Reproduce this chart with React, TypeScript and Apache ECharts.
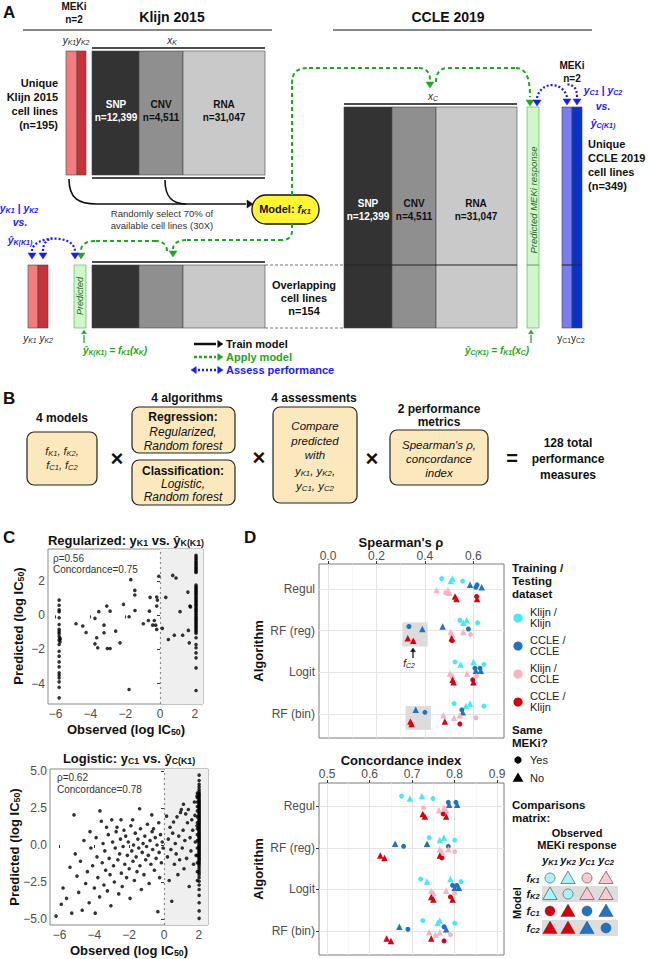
import React, { useEffect, useRef } from "react";
import * as echarts from "echarts";

const FONT = "'Liberation Sans', Arial, Helvetica, sans-serif";

// ---------------- Panel C data ----------------
const regularizedPoints: number[][] = [
  [-5.8, 0.9], [-5.8, 0.6], [-5.8, 0.33], [-5.8, 0.22], [-5.8, -0.14], [-5.8, -0.53], [-5.8, -0.82], [-5.8, -0.95],
  [-5.8, -1.06], [-5.8, -1.22], [-5.75, -1.35], [-5.75, -1.4], [-5.8, -1.45], [-5.75, -1.55], [-5.8, -1.71], [-5.8, -2.1],
  [-5.8, -2.39], [-5.8, -2.73], [-5.8, -3.02], [-5.8, -3.37], [-5.8, -3.51], [-5.8, -3.67], [-5.8, -3.9], [-5.8, -4.22], [-5.8, -4.84],
  [-4.83, -0.49], [-4.44, -0.62], [-4.25, -1.0], [-3.74, -0.17], [-3.52, 0.22], [-3.64, -1.31], [-3.74, -1.67], [-3.58, -1.9],
  [-3.22, -0.57], [-3.22, -1.02], [-3.06, 0.55], [-2.87, 0.25], [-3.03, -1.94], [-2.87, -1.94], [-2.55, -0.92], [-2.3, -1.61],
  [-2.1, 0.65], [-1.78, -0.08], [-1.78, -4.35], [-1.44, 0.29], [-0.96, -0.49], [-0.67, -0.3], [-0.61, 0.25], [-0.33, -0.3],
  [-0.42, -0.57], [-0.25, -0.57], [-0.19, -0.82], [-0.19, 0.55], [0.13, -0.76], [0.48, -1.41], [0.82, -1.16], [1.15, 0.22],
  [1.3, -1.16], [1.63, -0.88], [1.68, -1.61], [1.72, 0.55], [-1.68, 2.1], [-1.45, 1.47], [-1.45, 1.2], [-0.07, 2.3],
  [0.73, 2.35], [0.92, 2.2], [-0.57, 1.06], [-0.19, 1.08], [-0.15, 0.9], [0.33, 1.06], [1.6, 1.37], [1.75, 0.5],
  [2.07, 3.53], [2.07, 3.42], [2.07, 3.33], [2.07, 3.22], [2.07, 3.12], [2.07, 3.04], [2.07, 2.95], [2.07, 2.85],
  [2.07, 2.76], [2.07, 2.68], [2.07, 2.6], [2.07, 2.52], [2.07, 1.78], [2.07, 1.68], [2.07, 1.6], [2.07, 1.5],
  [2.07, 1.42], [2.07, 1.33], [2.07, 1.25], [2.07, 1.15], [2.07, 1.05], [2.07, 0.97], [2.07, 0.88], [2.07, 0.8],
  [2.07, 0.7], [2.07, 0.62], [2.07, 0.55], [2.07, 0.45], [2.07, 0.36], [2.07, 0.28], [2.07, 0.2], [2.07, 0.1],
  [2.07, 0.02], [2.07, -0.08], [2.07, -0.16], [2.07, -0.25], [2.07, -0.33], [2.07, -0.42], [2.07, -0.5], [2.07, -0.6],
  [2.07, -0.68], [2.07, -0.77], [2.07, -0.86], [2.07, -0.95], [2.07, -1.05], [2.07, -1.31], [2.07, -1.71], [2.07, -1.9],
  [2.07, -2.2], [2.07, -2.49], [2.07, -3.08], [2.07, -4.41],
];

const logisticPoints: number[][] = [
  [-6.2, -4.8], [-5.9, -4.0], [-5.8, -2.9], [-5.6, -3.6], [-5.4, -1.5], [-5.3, -4.6], [-5.17, 2.03], [-5.1, -0.6],
  [-5.0, -2.1], [-4.9, -3.2], [-4.8, -1.1], [-4.7, -4.4], [-4.6, 0.3], [-4.5, -2.6], [-4.4, -1.8], [-4.3, -3.9],
  [-4.25, 0.9], [-4.2, -0.2], [-4.1, -1.4], [-4.0, -2.9], [-3.95, -4.6], [-3.9, 0.5], [-3.85, -0.8], [-3.8, -2.2],
  [-3.7, -3.5], [-3.68, 2.3], [-3.6, 1.6], [-3.55, -1.2], [-3.5, 0.1], [-3.45, -2.7], [-3.4, -0.4], [-3.35, -1.7],
  [-3.3, 1.2], [-3.25, -3.1], [-3.2, 0.7], [-3.15, -0.9], [-3.1, -2.0], [-3.05, -4.1], [-3.0, 1.7], [-2.95, 0.2],
  [-2.9, -1.4], [-2.85, -2.5], [-2.8, -0.2], [-2.75, 0.9], [-2.7, 1.2], [-2.65, -1.0], [-2.6, -3.3], [-2.55, -0.6],
  [-2.5, 0.4], [-2.47, 1.7], [-2.45, -1.9], [-2.4, -2.8], [-2.35, -0.1], [-2.3, 1.0], [-2.25, -1.3], [-2.2, 0.6],
  [-2.15, -2.2], [-2.1, -0.7], [-2.05, 0.2], [-2.0, -1.6], [-1.95, -3.6], [-1.9, 1.3], [-1.85, -0.4], [-1.8, 1.7],
  [-1.78, -1.1], [-1.75, 0.0], [-1.7, -2.4], [-1.65, 0.8], [-1.6, -0.8], [-1.55, -1.8], [-1.5, 0.4], [-1.45, -0.2],
  [-1.4, 2.45], [-1.38, -1.4], [-1.35, 1.1], [-1.3, -3.0], [-1.25, -0.5], [-1.2, 0.1], [-1.15, -2.0], [-1.1, 0.6],
  [-1.05, -1.0], [-1.0, -0.1], [-0.95, 1.4], [-0.9, -0.7], [-0.85, -2.6], [-0.8, 0.3], [-0.75, -1.3], [-0.7, 2.03],
  [-0.68, 0.9], [-0.65, -0.3], [-0.6, 1.1], [-0.55, -1.7], [-0.5, 0.5], [-0.45, -0.9], [-0.4, 0.0], [-0.35, -4.5],
  [-0.3, 1.5], [-0.28, -0.5], [-0.25, -2.2], [-0.2, 0.7], [-0.15, -1.2], [-0.1, 0.2], [-0.05, -0.2],
  [0.15, 1.95], [0.2, -0.8], [0.25, 0.4], [0.3, -2.4], [0.35, 1.2], [0.4, -0.3], [0.45, -3.8], [0.5, 0.8],
  [0.55, 1.55], [0.6, -1.3], [0.65, 0.1], [0.7, -0.6], [0.75, 1.9], [0.8, -2.0], [0.85, 0.6], [0.9, -1.0],
  [0.95, 2.2], [1.0, 2.4], [1.05, -0.2], [1.1, 1.0], [1.12, 2.75], [1.15, -1.6], [1.2, 0.3], [1.25, 2.1],
  [1.3, -0.9], [1.35, 1.5], [1.4, 2.4], [1.45, -2.8], [1.5, 0.5], [1.55, -0.4], [1.6, 1.7], [1.65, 1.0],
  [1.7, -1.3], [1.75, 2.9], [1.78, 2.0], [1.8, 0.2], [1.85, -0.7], [1.9, 1.3], [1.9, 3.3],
  [2.02, 4.72], [2.02, 4.35], [2.02, 4.1], [2.02, 3.92], [2.02, 3.75], [2.02, 3.6], [2.02, 3.48], [2.02, 3.4],
  [2.02, 3.3], [2.02, 3.2], [2.02, 3.1], [2.02, 3.0], [2.02, 2.92], [2.02, 2.83], [2.02, 2.75], [2.02, 2.66],
  [2.02, 2.58], [2.02, 2.5], [2.02, 2.41], [2.02, 2.33], [2.02, 2.25], [2.02, 2.16], [2.02, 2.08], [2.02, 2.0],
  [2.02, 1.91], [2.02, 1.83], [2.02, 1.75], [2.02, 1.66], [2.02, 1.58], [2.02, 1.5], [2.02, 1.41], [2.02, 1.33],
  [2.02, 1.25], [2.02, 1.16], [2.02, 1.08], [2.02, 1.0], [2.02, 0.91], [2.02, 0.83], [2.02, 0.75], [2.02, 0.66],
  [2.02, 0.58], [2.02, 0.5], [2.02, 0.41], [2.02, 0.33], [2.02, 0.25], [2.02, 0.16], [2.02, 0.08], [2.02, 0.0],
  [2.02, -0.09], [2.02, -0.17], [2.02, -0.25], [2.02, -0.34], [2.02, -0.42], [2.02, -0.5], [2.02, -0.59], [2.02, -0.67],
  [2.02, -0.75], [2.02, -0.84], [2.02, -0.92], [2.02, -1.0], [2.02, -1.1], [2.02, -1.2], [2.02, -1.3], [2.02, -1.42],
  [2.02, -1.55], [2.02, -1.7], [2.02, -1.85], [2.02, -2.0], [2.02, -2.2], [2.02, -2.45], [2.02, -2.7], [2.02, -3.0],
  [2.02, -3.4], [2.02, -3.9], [2.02, -4.45], [2.02, -4.95],
  [1.92, 3.5], [1.92, 3.2], [1.92, 2.9], [1.92, 2.6], [1.92, 2.3], [1.92, 1.9], [1.92, 1.5], [1.92, 1.1],
  [1.92, 0.7], [1.92, 0.3], [1.92, -0.2], [1.92, -0.7], [1.92, -1.2], [1.92, -1.8], [1.92, -2.4],
];

const regularizedStats = ["ρ=0.56", "Concordance=0.75"];
const logisticStats = ["ρ=0.62", "Concordance=0.78"];
const cXTicks = [-6, -4, -2, 0, 2];
const cTopYTicks = [-4, -2, 0, 2];
const cBottomYTicks = [-5, -2.5, 0, 2.5, 5];

// ---------------- Panel D data ----------------
const algorithms = ["Regul", "RF (reg)", "Logit", "RF (bin)"];
const datasetNames = ["Klijn /\nKlijn", "CCLE /\nCCLE", "Klijn /\nCCLE", "CCLE /\nKlijn"];
const spearmanTicks = [0, 0.2, 0.4, 0.6];
const concordanceTicks = [0.5, 0.6, 0.7, 0.8, 0.9];

// [algorithm index, value, same MEKi (1) or not (0)]
const spearmanKlijnKlijn = [
  [0, 0.469, 1], [0, 0.506, 0], [0, 0.514, 0], [0, 0.555, 1],
  [1, 0.544, 1], [1, 0.558, 0], [1, 0.572, 0], [1, 0.617, 1],
  [2, 0.524, 1], [2, 0.547, 0], [2, 0.600, 0], [2, 0.643, 1],
  [3, 0.520, 1], [3, 0.569, 0], [3, 0.586, 0], [3, 0.643, 1],
];
const spearmanCcleCcle = [
  [0, 0.586, 0], [0, 0.610, 1], [0, 0.615, 1], [0, 0.634, 0],
  [1, 0.334, 1], [1, 0.389, 0], [1, 0.473, 0], [1, 0.579, 1],
  [2, 0.606, 1], [2, 0.610, 0], [2, 0.627, 1], [2, 0.630, 0],
  [3, 0.362, 0], [3, 0.400, 1], [3, 0.552, 1], [3, 0.556, 0],
];
const spearmanKlijnCcle = [
  [0, 0.448, 0], [0, 0.485, 1], [0, 0.495, 0], [0, 0.500, 0],
  [1, 0.506, 0], [1, 0.512, 0], [1, 0.558, 0], [1, 0.588, 1],
  [2, 0.503, 0], [2, 0.514, 0], [2, 0.574, 0], [2, 0.613, 1],
  [3, 0.476, 0], [3, 0.520, 0], [3, 0.544, 0], [3, 0.610, 1],
];
const spearmanCcleKlijn = [
  [0, 0.524, 0], [0, 0.530, 0], [0, 0.613, 1], [0, 0.615, 0],
  [1, 0.329, 0], [1, 0.352, 0], [1, 0.510, 0], [1, 0.512, 1],
  [2, 0.514, 0], [2, 0.518, 0], [2, 0.597, 1], [2, 0.600, 0],
  [3, 0.340, 0], [3, 0.345, 0], [3, 0.482, 0], [3, 0.544, 1],
];
const concordanceKlijnKlijn = [
  [0, 0.675, 1], [0, 0.695, 0], [0, 0.723, 0], [0, 0.749, 1],
  [1, 0.740, 1], [1, 0.765, 0], [1, 0.775, 0], [1, 0.800, 1],
  [2, 0.720, 1], [2, 0.735, 0], [2, 0.790, 0], [2, 0.815, 1],
  [3, 0.725, 1], [3, 0.760, 0], [3, 0.765, 0], [3, 0.800, 1],
];
const concordanceCcleCcle = [
  [0, 0.785, 1], [0, 0.787, 0], [0, 0.803, 1], [0, 0.806, 0],
  [1, 0.660, 0], [1, 0.680, 1], [1, 0.735, 0], [1, 0.785, 1],
  [2, 0.795, 1], [2, 0.800, 0], [2, 0.805, 1], [2, 0.810, 0],
  [3, 0.670, 0], [3, 0.690, 1], [3, 0.775, 1], [3, 0.780, 0],
];
const concordanceKlijnCcle = [
  [0, 0.727, 1], [0, 0.763, 0], [0, 0.775, 0], [0, 0.780, 0],
  [1, 0.765, 0], [1, 0.770, 0], [1, 0.785, 0], [1, 0.800, 1],
  [2, 0.745, 0], [2, 0.750, 0], [2, 0.780, 0], [2, 0.800, 1],
  [3, 0.740, 0], [3, 0.755, 0], [3, 0.765, 0], [3, 0.790, 1],
];
const concordanceCcleKlijn = [
  [0, 0.725, 0], [0, 0.730, 0], [0, 0.773, 1], [0, 0.780, 0],
  [1, 0.625, 0], [1, 0.635, 0], [1, 0.765, 0], [1, 0.770, 1],
  [2, 0.745, 0], [2, 0.750, 0], [2, 0.790, 1], [2, 0.795, 0],
  [3, 0.640, 0], [3, 0.650, 0], [3, 0.745, 0], [3, 0.775, 1],
];

// comparisons matrix: rows f_K1..f_C2, cols y_K1..y_C2: [group, same]
const matrixRows = ["K1", "K2", "C1", "C2"];
const matrixCells = [
  [[0, 1], [0, 0], [2, 1], [2, 0]],
  [[0, 0], [0, 1], [2, 0], [2, 0]],
  [[3, 1], [3, 0], [1, 1], [1, 0]],
  [[3, 0], [3, 0], [1, 0], [1, 1]],
];

// ---------------- styles ----------------
const GROUP_COLORS = ["#45E9F7", "#1F72C4", "#F6B5C1", "#D8000E"];
const MATRIX_FILL = ["#A6F5FA", "#1F72C4", "#F9C8D0", "#D8000E"];
const GROUP_OFFSET = [-0.22, -0.07, 0.06, 0.21];
const GREEN = "#22A622";
const BLUE = "#1A1AFF";

const minusFmt = (v: number, d = 0) => (v < 0 ? "\u2212" : "") + Math.abs(v).toFixed(d);

function richSet(size: number, bold: boolean, color: string) {
  const b = { fontFamily: FONT, fontWeight: bold ? "bold" : "normal", fill: color, color };
  const sub = { fontSize: Math.round(size * 0.68 * 10) / 10, verticalAlign: "top", padding: [size * 0.48, 0, 0, 0] };
  return {
    n: { ...b, fontSize: size, fontStyle: "normal" },
    i: { ...b, fontSize: size, fontStyle: "italic" },
    s: { ...b, ...sub, fontStyle: "italic" },
    u: { ...b, ...sub, fontStyle: "normal" },
  };
}

function buildGraphics() {
  const G: any[] = [];
  const text = (x: number, y: number, t: string, o: any = {}) => {
    const size = o.size ?? 10;
    const color = o.color ?? "#111";
    const align = o.align ?? "center";
    G.push({
      type: "text", x, y, rotation: o.rot ?? 0, z: 50, silent: true,
      style: {
        text: t, x: 0, y: 0, fill: color, fontFamily: FONT, fontSize: size,
        fontWeight: o.bold ? "bold" : "normal", fontStyle: o.italic ? "italic" : "normal",
        align, verticalAlign: "middle", textAlign: align, textVerticalAlign: "middle",
        lineHeight: o.lh,
        rich: o.rich ? richSet(size, !!o.bold, color) : undefined,
      },
    });
  };
  const line = (x1: number, y1: number, x2: number, y2: number, o: any = {}) =>
    G.push({
      type: "line", z: 40, silent: true, shape: { x1, y1, x2, y2 },
      style: { stroke: o.color ?? "#111", lineWidth: o.w ?? 1, lineDash: o.dash ?? null },
    });
  const bez = (x1: number, y1: number, c1x: number, c1y: number, c2x: number, c2y: number, x2: number, y2: number, o: any = {}) =>
    G.push({
      type: "bezierCurve", z: 40, silent: true,
      shape: { x1, y1, cpx1: c1x, cpy1: c1y, cpx2: c2x, cpy2: c2y, x2, y2 },
      style: { stroke: o.color ?? "#111", lineWidth: o.w ?? 1, lineDash: o.dash ?? null, fill: "none" },
    });
  const rect = (x: number, y: number, w: number, h: number, fill: string, o: any = {}) =>
    G.push({
      type: "rect", z: o.z ?? 30, silent: true, shape: { x, y, width: w, height: h, r: o.r ?? 0 },
      style: { fill, stroke: o.stroke ?? "#444", lineWidth: o.lw ?? 0.6 },
    });
  const head = (x: number, y: number, dir: string, color: string, s = 4) => {
    let pts: number[][] = [];
    if (dir === "down") pts = [[x, y], [x - s, y - s * 1.5], [x + s, y - s * 1.5]];
    if (dir === "up") pts = [[x, y], [x - s, y + s * 1.5], [x + s, y + s * 1.5]];
    if (dir === "right") pts = [[x, y], [x - s * 1.5, y - s], [x - s * 1.5, y + s]];
    if (dir === "left") pts = [[x, y], [x + s * 1.5, y - s], [x + s * 1.5, y + s]];
    G.push({ type: "polygon", z: 45, silent: true, shape: { points: pts }, style: { fill: color, stroke: color, lineWidth: 0.5 } });
  };
  const circle = (cx: number, cy: number, r: number, fill: string, stroke = "none", lw = 0) =>
    G.push({ type: "circle", z: 50, silent: true, shape: { cx, cy, r }, style: { fill, stroke, lineWidth: lw } });
  const tri = (cx: number, cy: number, s: number, fill: string, stroke = "none", lw = 0) =>
    G.push({
      type: "polygon", z: 50, silent: true,
      shape: { points: [[cx, cy - s * 0.62], [cx - s * 0.6, cy + s * 0.42], [cx + s * 0.6, cy + s * 0.42]] },
      style: { fill, stroke, lineWidth: lw },
    });

  // ================= Panel A =================
  text(3, 12, "A", { size: 17, bold: true, align: "left" });
  text(74, 12.5, "MEKi\nn=2", { size: 10, bold: true, lh: 13 });
  text(172, 17, "Klijn 2015", { size: 14, bold: true });
  text(448, 17, "CCLE 2019", { size: 14, bold: true });
  line(23, 30, 272, 30, { w: 1.2 });
  line(333, 30, 592, 30, { w: 1.2 });
  text(76, 40, "{i|y}{s|K1}{i|y}{s|K2}", { size: 10, rich: true, color: "#222" });
  text(172, 40, "{i|x}{s|K}", { size: 10, rich: true, color: "#222" });
  text(433, 96, "{i|x}{s|C}", { size: 10, rich: true, color: "#222" });
  line(92, 48, 265, 48, { w: 1.6 });
  line(92, 178, 265, 178, { w: 1.6 });
  line(344, 104, 517, 104, { w: 1.6 });
  line(92, 262, 265, 262, { w: 1.6 });

  // Klijn top blocks
  rect(66, 51, 11, 124, "#F47C7C");
  rect(77, 51, 9, 124, "#C8323B");
  rect(92, 51, 47, 124, "#333333");
  rect(139, 51, 44, 124, "#8F8F8F");
  rect(183, 51, 82, 124, "#C9C9C9");
  // Klijn bottom (overlapping) blocks
  rect(28, 265, 10, 63, "#F47C7C");
  rect(38, 265, 10, 63, "#C8323B");
  rect(74, 265, 12, 63, "#CFF7C8", { stroke: "#4FA84F" });
  rect(92, 265, 47, 63, "#333333");
  rect(139, 265, 44, 63, "#8F8F8F");
  rect(183, 265, 82, 63, "#C9C9C9");
  line(265, 265, 344, 265, { color: "#777", dash: [3, 2] });
  line(265, 328, 344, 328, { color: "#777", dash: [3, 2] });
  // CCLE blocks
  rect(344, 107, 48, 221, "#333333");
  rect(392, 107, 44, 221, "#8F8F8F");
  rect(436, 107, 81, 221, "#C9C9C9");
  line(344, 265, 517, 265, { color: "#222", w: 1 });
  rect(527, 107, 12, 221, "#CFF7C8", { stroke: "#4FA84F" });
  line(527, 265, 539, 265, { color: "#4FA84F", w: 1 });
  rect(562, 107, 10, 221, "#7C7CF2");
  rect(572, 107, 10, 221, "#0B32C8");
  line(562, 265, 582, 265, { color: "#222", w: 1 });

  const blocks = [["SNP", "n=12,399", "#fff"], ["CNV", "n=4,511", "#111"], ["RNA", "n=31,047", "#111"]];
  const klijnCx = [116, 161, 224];
  const ccleCx = [368, 414, 476];
  blocks.forEach((b, k) => {
    text(klijnCx[k], 110.5, b[0] + "\n" + b[1], { size: 10, bold: true, color: b[2], lh: 13 });
    text(ccleCx[k], 209.5, b[0] + "\n" + b[1], { size: 10, bold: true, color: b[2], lh: 13 });
  });

  text(58, 104, "Unique\nKlijn 2015\ncell lines\n(n=195)", { size: 11, bold: true, align: "right", lh: 14 });
  text(588, 165, "Unique\nCCLE 2019\ncell lines\n(n=349)", { size: 11, bold: true, align: "left", lh: 14 });
  text(304, 298, "Overlapping\ncell lines\nn=154", { size: 11, bold: true, lh: 13 });
  text(572, 71.5, "MEKi\nn=2", { size: 10, bold: true, lh: 13 });

  // rotated predicted labels
  text(80, 296, "Predicted", { size: 9, italic: true, color: "#2E6B2E", rot: Math.PI / 2 });
  text(533, 200, "Predicted MEKi response", { size: 9.5, italic: true, color: "#2E6B2E", rot: Math.PI / 2 });

  // black train arrows
  bez(69, 179, 69, 198, 78, 204, 97, 204, { w: 1.6 });
  line(97, 204, 246, 204, { w: 1.6 });
  bez(165, 180, 165, 197, 172, 204, 186, 204, { w: 1.6 });
  head(253, 204, "right", "#111", 4);
  text(162, 219, "Randomly select 70% of\navailable cell lines (30X)", { size: 9.5, color: "#333", lh: 12 });

  // model box
  rect(252, 195, 67, 29, "#FFF533", { stroke: "#111", lw: 1.3, r: 14, z: 35 });
  text(285, 209, "{n|Model: }{i|f}{s|K1}", { size: 11, bold: true, rich: true });

  // green apply arrows (top)
  const gd = { color: GREEN, w: 2, dash: [4, 3] };
  line(292, 195, 292, 84, gd);
  bez(292, 84, 292, 72, 297, 68, 309, 68, gd);
  line(309, 68, 419, 68, gd);
  bez(419, 68, 426, 68, 430, 72, 430, 80, gd);
  head(430, 88, "down", GREEN, 4);
  bez(436, 82, 436, 73, 440, 68, 448, 68, gd);
  line(448, 68, 516, 68, gd);
  bez(516, 68, 526, 68, 530, 78, 530, 97, gd);
  head(530, 106, "down", GREEN, 4);
  // green apply arrows (bottom)
  line(292, 224, 292, 231, gd);
  bez(292, 231, 292, 237, 288, 240, 282, 240, gd);
  line(282, 240, 186, 240, gd);
  bez(186, 240, 178, 240, 173, 244, 173, 249, gd);
  head(173, 257, "down", GREEN, 4);
  bez(167, 251, 167, 245, 163, 241, 156, 241, gd);
  line(156, 241, 95, 241, gd);
  bez(95, 241, 86, 241, 81, 245, 81, 250, gd);
  head(81, 259, "down", GREEN, 4);

  // blue assess arrows
  const bd = { color: BLUE, w: 2.2, dash: [2, 2] };
  bez(32, 251, 32, 236, 74, 233, 75, 251, bd);
  bez(43, 251, 43, 244, 46, 240, 52, 238, bd);
  head(32, 259, "down", BLUE, 4);
  head(43, 259, "down", BLUE, 4);
  head(75, 259, "down", BLUE, 4);
  bez(537, 98, 540, 82, 562, 80, 567, 97, bd);
  bez(577, 97, 577, 88, 574, 85, 566, 84, bd);
  head(537, 106, "down", BLUE, 4);
  head(567, 105, "down", BLUE, 4);
  head(577, 105, "down", BLUE, 4);
  text(19, 208, "{i|y}{s|K1}{i| | y}{s|K2}", { size: 10.5, bold: true, rich: true, color: BLUE });
  text(20, 222, "vs.", { size: 10.5, bold: true, italic: true, color: BLUE });
  text(20, 240, "{i|ŷ}{s|K(K1)}", { size: 10.5, bold: true, rich: true, color: BLUE });
  text(603, 90, "{i|y}{s|C1}{i| | y}{s|C2}", { size: 10.5, bold: true, rich: true, color: BLUE });
  text(603, 106, "vs.", { size: 10.5, bold: true, italic: true, color: BLUE });
  text(603, 123, "{i|ŷ}{s|C(K1)}", { size: 10.5, bold: true, rich: true, color: BLUE });

  // bottom labels
  text(38, 338, "{i|y}{s|K1} {i|y}{s|K2}", { size: 10, rich: true, color: "#222" });
  text(571, 338, "{n|y}{u|C1}{n|y}{u|C2}", { size: 10, rich: true, color: "#222" });
  line(84, 343, 84, 335, { color: GREEN, w: 1.3 });
  head(84, 330, "up", GREEN, 2.5);
  line(531, 343, 531, 335, { color: GREEN, w: 1.3 });
  head(531, 330, "up", GREEN, 2.5);
  text(115, 350, "{i|ŷ}{s|K(K1)}{i| = f}{s|K1}{i|(x}{s|K}{i|)}", { size: 10, bold: true, rich: true, color: GREEN });
  text(497, 350, "{i|ŷ}{s|C(K1)}{i| = f}{s|K1}{i|(x}{s|C}{i|)}", { size: 10, bold: true, rich: true, color: GREEN });

  // legend of arrows
  line(194, 344, 216, 344, { w: 2.5 });
  head(223, 344, "right", "#111", 3.5);
  line(194, 357, 216, 357, { color: GREEN, w: 2.5, dash: [3, 2] });
  head(223, 357, "right", GREEN, 3.5);
  line(198, 370, 216, 370, { color: BLUE, w: 2.5, dash: [2, 2] });
  head(191, 370, "left", BLUE, 3.5);
  head(223, 370, "right", BLUE, 3.5);
  text(226, 344, "Train model", { size: 11, bold: true, align: "left" });
  text(226, 357, "Apply model", { size: 11, bold: true, align: "left", color: GREEN });
  text(226, 370, "Assess performance", { size: 11, bold: true, align: "left", color: BLUE });

  // ================= Panel B =================
  const BOX = "#FCE8BD";
  text(3, 398, "B", { size: 17, bold: true, align: "left" });
  text(62, 418, "4 models", { size: 12, bold: true });
  rect(27, 432, 70, 53, BOX, { stroke: "#222", lw: 1.2, r: 7 });
  text(62, 451, "{i|f}{s|K1}{i|, f}{s|K2}{i|,}", { size: 11, rich: true, color: "#222" });
  text(62, 465, "{i|f}{s|C1}{i|, f}{s|C2}", { size: 11, rich: true, color: "#222" });
  text(117, 458, "×", { size: 22, bold: true });
  text(187, 398, "4 algorithms", { size: 12, bold: true });
  rect(132, 407, 103, 46, BOX, { stroke: "#222", lw: 1.2, r: 7 });
  rect(132, 460, 103, 45, BOX, { stroke: "#222", lw: 1.2, r: 7 });
  text(183, 417, "Regression:", { size: 12, bold: true });
  text(183, 439, "Regularized,\nRandom forest", { size: 12, italic: true, lh: 14 });
  text(183, 471, "Classification:", { size: 12, bold: true });
  text(183, 490.5, "Logistic,\nRandom forest", { size: 12, italic: true, lh: 13 });
  text(259, 457, "×", { size: 22, bold: true });
  text(314, 398, "4 assessments", { size: 12, bold: true });
  rect(273, 407, 84, 96, BOX, { stroke: "#222", lw: 1.2, r: 7 });
  text(315, 440.5, "Compare\npredicted\nwith", { size: 11.5, italic: true, lh: 14.5 });
  text(315, 471, "{i|y}{s|K1}{i|, y}{s|K2}{i|,}", { size: 11.5, rich: true });
  text(315, 486, "{i|y}{s|C1}{i|, y}{s|C2}", { size: 11.5, rich: true });
  text(372, 458, "×", { size: 22, bold: true });
  text(439, 415.5, "2 performance\nmetrics", { size: 12, bold: true, lh: 13 });
  rect(390, 430, 98, 55, BOX, { stroke: "#222", lw: 1.2, r: 7 });
  text(439, 459, "Spearman's ρ,\nconcordance\nindex", { size: 11.5, italic: true, lh: 14 });
  text(512, 458, "=", { size: 20, bold: true });
  text(568, 459, "128 total\nperformance\nmeasures", { size: 12, bold: true, lh: 16 });

  // ================= Panel C =================
  text(3, 537, "C", { size: 17, bold: true, align: "left" });
  text(126, 540, "{n|Regularized: y}{u|K1}{n| vs. ŷ}{u|K(K1)}", { size: 13, bold: true, rich: true });
  text(53, 563.5, regularizedStats.join("\n"), { size: 10, align: "left", color: "#333", lh: 11 });
  text(18, 626, "{n|Predicted (log IC}{u|50}{n|)}", { size: 13, bold: true, rich: true, rot: Math.PI / 2 });
  text(126, 729, "{n|Observed (log IC}{u|50}{n|)}", { size: 13, bold: true, rich: true });
  text(129, 758, "{n|Logistic: y}{u|C1}{n| vs. ŷ}{u|C(K1)}", { size: 13, bold: true, rich: true });
  text(57, 783, logisticStats.join("\n"), { size: 10, align: "left", color: "#333", lh: 12 });
  text(14, 847, "{n|Predicted (log IC}{u|50}{n|)}", { size: 13, bold: true, rich: true, rot: Math.PI / 2 });
  text(129, 950, "{n|Observed (log IC}{u|50}{n|)}", { size: 13, bold: true, rich: true });

  // ================= Panel D =================
  text(244, 537, "D", { size: 17, bold: true, align: "left" });
  text(401, 542, "Spearman's ρ", { size: 13, bold: true });
  text(401, 760, "Concordance index", { size: 13, bold: true });
  text(258, 651, "Algorithm", { size: 13, bold: true, rot: Math.PI / 2 });
  text(258, 869, "Algorithm", { size: 13, bold: true, rot: Math.PI / 2 });
  line(413, 658, 413, 652, { w: 1.3 });
  head(413, 648, "up", "#111", 2.5);
  text(409, 663, "{i|f}{s|C2}", { size: 10, rich: true });

  // legend
  text(512, 581, "Training /\nTesting\ndataset", { size: 11.5, bold: true, align: "left", lh: 13 });
  datasetNames.forEach((nm, g) => {
    circle(518, 618 + g * 28, 4.6, GROUP_COLORS[g]);
    text(530, 617.5 + g * 28, nm, { size: 11, align: "left", color: "#222", lh: 11 });
  });
  text(512, 736, "Same\nMEKi?", { size: 11.5, bold: true, align: "left", lh: 13 });
  circle(518, 760, 3.6, "#000");
  text(530, 760, "Yes", { size: 11, align: "left", color: "#222" });
  tri(518, 778, 9, "#000");
  text(530, 778, "No", { size: 11, align: "left", color: "#222" });
  text(512, 811, "Comparisons\nmatrix:", { size: 11.5, bold: true, align: "left", lh: 13 });
  text(577, 839, "Observed\nMEKi response", { size: 11, bold: true, lh: 12 });
  const colX = [550, 568, 587, 606];
  const rowY = [878, 894, 911, 928];
  rect(542, 886, 76, 16, "#DDDDDD", { stroke: "none", lw: 0, z: 45 });
  rect(542, 920, 76, 16, "#DDDDDD", { stroke: "none", lw: 0, z: 45 });
  matrixRows.forEach((r, k) => {
    text(colX[k], 860, `{i|y}{s|${r}}`, { size: 11, bold: true, rich: true });
    text(533, rowY[k], `{i|f}{s|${r}}`, { size: 11, bold: true, rich: true });
  });
  text(517, 903, "Model", { size: 11, bold: true, rot: Math.PI / 2 });
  matrixCells.forEach((row, r) =>
    row.forEach(([g, same], c) => {
      const light = g === 0 || g === 2;
      const stroke = light ? "#666" : "#333";
      if (same) circle(colX[c], rowY[r], 5, MATRIX_FILL[g], stroke, light ? 0.8 : 0.4);
      else tri(colX[c], rowY[r] + 0.5, 12, MATRIX_FILL[g], stroke, light ? 0.8 : 0.4);
    }));
  return G;
}

const axisLabelBase = { color: "#4D4D4D", fontSize: 12, fontFamily: FONT };

function valueAxis(gridIndex: number, min: number, max: number, ticks: number[], fmt: (v: number) => string, extra: any = {}) {
  return {
    type: "value", gridIndex, min, max,
    axisLine: { show: false },
    splitLine: { show: false },
    axisTick: { show: true, customValues: ticks, length: 3, lineStyle: { color: "#333", width: 1 } },
    axisLabel: { ...axisLabelBase, customValues: ticks, formatter: fmt, margin: 4, ...(extra.label || {}) },
    ...(extra.axis || {}),
  };
}

function dSeries(axis: number, groups: number[][][]) {
  return groups.map((arr, g) => ({
    type: "scatter", xAxisIndex: axis, yAxisIndex: axis, z: 5, silent: true,
    data: arr.map(([a, v, s], k) => [v, a + 1 + GROUP_OFFSET[g] + (k % 2 ? 0.03 : -0.03), s]),
    symbol: (val: number[]) => (val[2] ? "circle" : "triangle"),
    symbolSize: (val: number[]) => (val[2] ? 5 : 6.5),
    itemStyle: { color: GROUP_COLORS[g], opacity: 1 },
  }));
}

function gridLines(axis: number, major: number[]) {
  const minor = major.map((v, k) => (k < major.length - 1 ? (v + major[k + 1]) / 2 : v + (major[1] - major[0]) / 2));
  return {
    type: "scatter", xAxisIndex: axis, yAxisIndex: axis, data: [], silent: true, z: 1,
    markLine: {
      silent: true, symbol: ["none", "none"], z: 1, label: { show: false }, animation: false,
      data: [
        ...minor.map((v) => ({ xAxis: v, lineStyle: { color: "#F2F2F2", width: 0.6, type: "solid" } })),
        ...major.map((v) => ({ xAxis: v, lineStyle: { color: "#E4E4E4", width: 1.1, type: "solid" } })),
        ...algorithms.map((_, k) => ({ yAxis: k + 1, lineStyle: { color: "#E4E4E4", width: 1.1, type: "solid" } })),
      ],
    },
  };
}

function shading(axis: number, xmax: number) {
  return {
    type: "scatter", xAxisIndex: axis, yAxisIndex: axis, data: [], silent: true, z: 1,
    markArea: { silent: true, z: 0.5, itemStyle: { color: "#EFEFEF" }, data: [[{ xAxis: 0 }, { xAxis: xmax }]] },
    markLine: {
      silent: true, z: 1, symbol: ["none", "none"], label: { show: false }, animation: false,
      lineStyle: { color: "#8A8A8A", width: 1.2, type: [2, 3] }, data: [{ xAxis: 0 }],
    },
  };
}

function buildOption() {
  const gridBase = { show: true, borderColor: "#8A8A8A", borderWidth: 1, backgroundColor: "#fff", containLabel: false };
  return {
    animation: false,
    backgroundColor: "#fff",
    textStyle: { fontFamily: FONT },
    grid: [
      { ...gridBase, left: 48, top: 549, width: 155, height: 155 },
      { ...gridBase, left: 50, top: 769, width: 158, height: 156 },
      { ...gridBase, left: 319, top: 564, width: 185, height: 174, borderColor: "#7A7A7A" },
      { ...gridBase, left: 319, top: 783, width: 185, height: 172, borderColor: "#7A7A7A" },
    ],
    xAxis: [
      valueAxis(0, -6.44, 2.47, cXTicks, (v) => minusFmt(v)),
      valueAxis(1, -6.55, 2.53, cXTicks, (v) => minusFmt(v)),
      valueAxis(2, -0.037, 0.726, spearmanTicks, (v) => v.toFixed(1), { axis: { position: "top" }, label: { margin: 2 } }),
      valueAxis(3, 0.481, 0.916, concordanceTicks, (v) => v.toFixed(1), { axis: { position: "top" }, label: { margin: 3 } }),
    ],
    yAxis: [
      valueAxis(0, -5.2, 3.9, cTopYTicks, (v) => minusFmt(v), { label: { margin: 3 } }),
      valueAxis(1, -5.4, 5.13, cBottomYTicks, (v) => minusFmt(v, 1), { label: { margin: 3 } }),
      valueAxis(2, 0.4, 4.576, [1, 2, 3, 4], (v) => algorithms[Math.round(v) - 1], { axis: { inverse: true }, label: { margin: 4 } }),
      valueAxis(3, 0.434, 4.58, [1, 2, 3, 4], (v) => algorithms[Math.round(v) - 1], { axis: { inverse: true }, label: { margin: 4 } }),
    ],
    series: [
      shading(0, 2.47),
      { type: "scatter", xAxisIndex: 0, yAxisIndex: 0, z: 5, silent: true, data: regularizedPoints, symbolSize: 3.6, itemStyle: { color: "#000" } },
      shading(1, 2.53),
      { type: "scatter", xAxisIndex: 1, yAxisIndex: 1, z: 5, silent: true, data: logisticPoints, symbolSize: 3.6, itemStyle: { color: "#000" } },
      gridLines(2, spearmanTicks),
      {
        type: "scatter", xAxisIndex: 2, yAxisIndex: 2, data: [], silent: true, z: 2,
        markArea: {
          silent: true, z: 1.5, itemStyle: { color: "#DCDCDC" },
          data: [
            [{ xAxis: 0.307, yAxis: 1.8 }, { xAxis: 0.411, yAxis: 2.38 }],
            [{ xAxis: 0.32, yAxis: 3.81 }, { xAxis: 0.425, yAxis: 4.38 }],
          ],
        },
      },
      ...dSeries(2, [spearmanKlijnKlijn, spearmanCcleCcle, spearmanKlijnCcle, spearmanCcleKlijn]),
      gridLines(3, concordanceTicks),
      ...dSeries(3, [concordanceKlijnKlijn, concordanceCcleCcle, concordanceKlijnCcle, concordanceCcleKlijn]),
    ],
    graphic: { elements: buildGraphics() },
  };
}

export default function App() {
  const ref = useRef<HTMLDivElement>(null);
  useEffect(() => {
    const chart = echarts.init(ref.current as HTMLDivElement, null, { renderer: "svg" });
    chart.setOption(buildOption() as any);
    return () => chart.dispose();
  }, []);
  return (
    <div
      ref={ref}
      style={{ position: "absolute", left: 0, top: 0, width: 648, height: 959, background: "#fff" }}
    />
  );
}
